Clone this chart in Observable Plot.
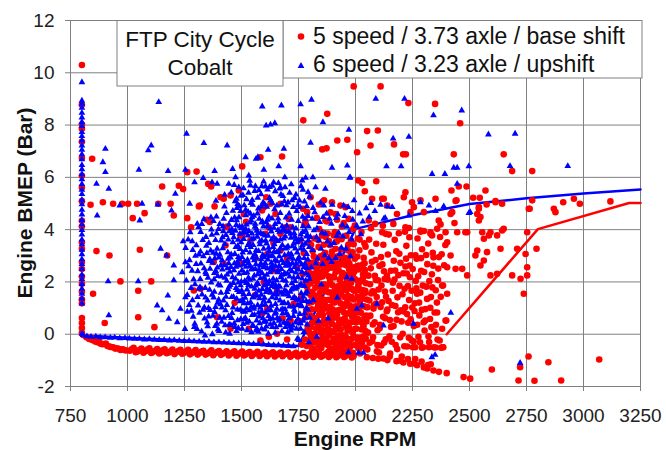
<!DOCTYPE html>
<html><head><meta charset="utf-8">
<script src="https://cdn.jsdelivr.net/npm/d3@7"></script>
<script src="https://cdn.jsdelivr.net/npm/@observablehq/plot@0.6"></script>
<style>
html,body{margin:0;padding:0;background:#fff;}
#chart{width:666px;height:450px;}
</style></head><body><div id="chart"></div>
<script>
const xTicks = [750,1000,1250,1500,1750,2000,2250,2500,2750,3000,3250];
const yTicks = [-2,0,2,4,6,8,10,12];
const seriesNames = ["5 speed / 3.73 axle / base shift","6 speed / 3.23 axle / upshift"];
const boxTitle = ["FTP City Cycle","Cobalt"];
const xTitle = "Engine RPM";
const yTitle = "Engine BMEP (Bar)";
const idleRPM = 800;

// 5 speed (red) idle column BMEP values at 800 rpm
const redIdleBMEP = [10.3,8.78,8.02,7.86,7.36,6.74,6.06,5.61,5.09,4.34,4.12,3.52,3.27,2.76,2.49,2.21,1.93,1.62,1.34,1.18,0.62,0.43,0.24,0.05];
// 6 speed (blue) idle column BMEP values at 800 rpm
const blueIdleBMEP = [9.64,8.93,8.81,8.66,8.47,8.29,8.12,7.96,7.73,7.58,7.41,7.22,7.05,6.88,6.69,6.47,6.31,6.12,5.93,5.74,5.52,5.36,5.14,4.97,4.76,4.58,4.37,4.19,3.98,3.81,3.62,3.44,3.23,3.06,2.87,2.68,2.49,2.27,2.11,1.92,1.74,1.55,1.36,1.17,0.02];

// red points: rpm, bmep pairs
const redSparse = [845,6.71,838,4.95,892,5.05,937,4.99,977,4.99,1003,4.99,1042,4.99,1023,4.44,1075,4.63,1135,4.99,1152,5.65,1189,4.99,1203,4.54,1225,5.68,1244,5.55,1262,4.44,1279,4.09,1303,6.22,1313,4.89,1354,5.75,1361,4.29,1382,4.89,1422,5.18,1433,4.09,864,3.18,921,3.01,1054,3.23,969,2.02,1104,2.02,1047,1.66,849,1.55,1047,0.65,900,0.43,1118,0.27,1174,3.01,
1262,6.2,1317,4.92,1367,5.65,1408,5.24,1452,5.31,1503,6.42,1627,4.99,1598,4.86,1671,4.99,1678,6.8,1583,6.77,1349,4.38,1488,5.5,1510,4.6,1590,4.73,1649,4.6,1707,4.41,1788,4.67,1839,4.96,1897,5.05,1934,4.92,1956,4.86,1912,4.6,1868,4.35,1781,4.33,1948,4.25,1693,4.09,1620,4.09,1503,3.78,1605,3.84,1854,3.78,1905,3.78,1997,4.16,2058,4.35,1437,4.12,1609,5.24,1803,5.24];
const redUpper = [1992,9.48,2110,9.48,2232,8.84,2349,8.81,2459,8.07,1876,8.43,1771,8.18,2051,7.77,2098,7.79,1920,7.41,1964,7.44,2066,7.22,1854,7.07,1873,7.11,2007,6.96,2012,5.88,2029,5.78,2091,5.85,2041,5.47,2073,5.18,2117,5.18,2169,7.26,2209,6.88,2221,6.88,2431,6.88,2650,6.88,2687,6.24,2775,6.24,
2421,5.5,2453,5.65,2487,5.65,2570,5.5,2351,5.18,2443,5.12,2516,5.22,2545,5.22,2614,5.09,2575,4.96,2541,4.8,2548,4.48,2541,4.35,2417,4.6,2365,4.35,2434,4.25,2329,3.9,2358,4.03,2490,3.9,2446,3.9,2585,3.78,2621,3.78,2650,4.03,2753,3.9,2760,4.8,2775,5.12,2124,5.18,2139,4.92,2219,5.43,2212,5.24,2248,5.05,2285,5.12,2256,4.86,2241,4.67,2300,4.67,2182,4.6,2219,4.09,2234,4.06,2285,3.97,2300,3.95,2117,3.9,2132,3.84,2373,4.2,2336,3.78];
const redRight = [2395,3.9,2439,5.1,2424,4.67,2482,3.9,2402,3.52,2417,3.01,2402,2.56,2439,2.5,2468,2.5,2490,2.25,2380,1.86,2402,1.55,2395,0.52,2534,3.2,2577,3.14,2526,3.01,2548,2.63,2592,2.25,2621,2.31,2563,2.82,2636,3.27,2556,3.9,2592,3.9,2643,3.97,2563,3.65,2534,4.6,2541,4.86,2614,5.05,2643,4.99,2709,3.27,2687,2.25,2724,2.12,2746,3.07,2753,2.56,2753,2.25,2738,1.55,2794,3.27,2764,4.8,2870,4.8,2877,4.67,2911,5.05,2958,5.18,2984,4.99,3118,5.08];
const redLowTrail = [2050,-0.88,2100,-0.94,2140,-0.99,2180,-1.03,2210,-1.08,2240,-1.13,2270,-1.19,2300,-1.27,2342,-1.39,2400,-1.49,2474,-1.64,2503,-1.7,2598,-1.35,2715,-1.77,2722,-1.26,2759,-0.85,2785,-1.78,2846,-1.07,2902,-1.77,3069,-0.97,2150,-0.85,2230,-0.95,2290,-1.05,2330,-1.15,2262,-0.5,2291,-0.52,2322,-0.5,2351,-0.51,2382,-0.5,2076,-0.91,2122,-0.93,2196,-1.01,2256,-1.12,2315,-1.31,2366,-1.44];
const redBand = [820,-0.12,845,-0.22,868,-0.31,890,-0.38,912,-0.45,935,-0.5,958,-0.55,980,-0.58,850,-0.17,875,-0.27,905,-0.36,832,-0.18,858,-0.28,882,-0.36,924,-0.49,946,-0.55,969,-0.6,992,-0.62,
1010,-0.63,1044,-0.66,1079,-0.65,1112,-0.68,1148,-0.69,1181,-0.7,1214,-0.69,1249,-0.71,1283,-0.72,1316,-0.72,1351,-0.74,1384,-0.73,1418,-0.75,1452,-0.75,1486,-0.76,1519,-0.77,1553,-0.76,1587,-0.78,1620,-0.78,1655,-0.79,1688,-0.78,1722,-0.8,1756,-0.8,1789,-0.81,1823,-0.8,1857,-0.82,1891,-0.81,1924,-0.82,1958,-0.82,1992,-0.83,
1027,-0.52,1061,-0.55,1096,-0.54,1130,-0.57,1163,-0.58,1197,-0.59,1232,-0.6,1266,-0.6,1299,-0.61,1333,-0.63,1368,-0.62,1401,-0.64,1435,-0.65,1469,-0.65,1503,-0.66,1536,-0.68,1570,-0.67,1604,-0.69,1638,-0.69,1671,-0.7,1705,-0.7,1739,-0.71,1772,-0.72,1806,-0.71,1840,-0.72,1874,-0.73,1908,-0.72,1941,-0.74,1975,-0.74,
1018,-0.58,1052,-0.61,1087,-0.59,1121,-0.63,1155,-0.62,1189,-0.65,1223,-0.64,1257,-0.66,1291,-0.67,1325,-0.66,1359,-0.69,1393,-0.68,1427,-0.71,1461,-0.7,1495,-0.72,1528,-0.72,1562,-0.73,1596,-0.73,1629,-0.74,1663,-0.75,1697,-0.75,1731,-0.76,1764,-0.77,1798,-0.76,1832,-0.78,1866,-0.77,1899,-0.78,1933,-0.79,1967,-0.78,
1036,-0.69,1070,-0.71,1104,-0.72,1139,-0.74,1172,-0.73,1206,-0.76,1240,-0.75,1274,-0.77,1308,-0.78,1342,-0.78,1376,-0.8,1410,-0.79,1444,-0.81,1478,-0.82,1511,-0.81,1545,-0.83,1579,-0.83,1612,-0.84,1646,-0.85,1680,-0.84,1714,-0.86,1747,-0.85,1781,-0.86,1815,-0.87,1849,-0.86,1883,-0.87,1916,-0.88,1950,-0.87,1984,-0.89];
const redMid = [1422,2.69,1496,2.69,1320,1.74,1291,1.67,1393,0.65,1452,0.21,1532,0.21,1590,0.78,1613,0.97,1656,1.67,1598,1.99,1613,3.07,1671,3.2,1539,3.59,1671,3.84,1496,3.78,1378,2.76,1642,2.44,1715,4.09,1759,3.59,1744,2.56,1729,1.16,1715,0.52,1656,0.02,1583,-0.24,1470,1.2,1560,1.5,1640,3.5,1700,2.9,1520,4.3,1680,0.6,1430,3.4,1560,2.9,1700,-0.2,1620,-0.1];
const redDense = [1755,0.5,1762,1.4,1768,2.3,1773,3.1,1779,-0.2,1784,0.9,1788,1.8,1792,2.7,1797,3.5,1776,4.2,1790,0.2,1765,-0.4,1795,1.2,1782,2.0,1770,4.8,
1802,-0.35,1805,0.28,1808,0.95,1811,1.62,1814,2.31,1817,2.98,1820,3.66,1823,-0.12,1826,0.61,1829,1.29,1832,1.97,1835,2.65,1838,3.34,1841,4.02,1844,-0.48,1847,0.07,1849,0.83,1806,1.47,1818,2.05,1833,0.41,1843,1.57,1812,3.18,1827,2.83,1839,2.41,1846,2.98,1821,0.03,1850,1.15,1830,4.45,
1852,-0.41,1854,0.16,1857,0.74,1859,1.33,1862,1.91,1864,2.52,1867,3.11,1869,3.72,1872,-0.19,1874,0.44,1877,1.03,1879,1.61,1882,2.22,1884,2.81,1887,3.41,1889,-0.58,1891,0.12,1894,0.69,1896,1.28,1899,1.87,1855,2.21,1866,0.38,1871,2.87,1878,3.85,1886,1.32,1893,2.54,1897,3.16,1861,3.42,1883,-0.05,1875,4.31,1890,4.66,1862,5.12,
1901,-0.55,1903,0.07,1906,0.63,1908,1.21,1911,1.79,1913,2.38,1916,2.97,1918,3.55,1921,-0.28,1923,0.35,1926,0.92,1928,1.49,1931,2.08,1933,2.66,1936,3.24,1938,-0.62,1941,-0.04,1943,0.54,1946,1.13,1948,1.72,1905,2.68,1915,0.31,1925,1.84,1935,0.18,1944,2.34,1909,3.91,1929,3.71,1947,2.93,1919,4.38,1940,4.12,1912,-0.21,1932,-0.45,
1951,-0.66,1953,-0.05,1956,0.52,1958,1.09,1961,1.68,1963,2.26,1966,2.85,1968,3.42,1971,-0.36,1973,0.24,1976,0.81,1978,1.39,1981,1.97,1983,2.56,1986,3.14,1988,-0.71,1991,-0.11,1993,0.48,1996,1.06,1998,1.64,1955,2.91,1965,0.13,1975,2.03,1985,0.67,1994,2.38,1960,3.77,1980,3.58,1997,2.89,1970,4.41,1990,4.02,
2002,-0.42,2004,0.21,2007,0.83,2009,1.42,2012,2.04,2014,2.63,2017,3.21,2020,-0.74,2023,-0.13,2025,0.47,2028,1.08,2031,1.69,2033,2.29,2036,2.92,2039,3.48,2042,-0.51,2044,0.12,2047,0.71,2049,1.33,2010,3.66,2026,3.91,2041,2.45,2016,1.71,2035,0.33,2046,1.95,
2052,-0.58,2055,0.06,2058,0.68,2061,1.29,2064,1.91,2067,2.52,2070,3.13,2073,-0.27,2076,0.37,2079,0.98,2082,1.62,2085,2.23,2088,2.84,2091,3.46,2094,-0.65,2097,0.15,2060,3.62,2075,1.64,2090,1.17,2099,2.06,2068,4.05,2086,4.22,
2103,-0.7,2106,0.23,2110,1.04,2114,1.86,2118,2.67,2122,3.42,2126,-0.32,2130,0.61,2134,1.43,2138,2.24,2142,3.05,2146,3.81,2149,-0.08,2112,2.95,2128,2.11,2140,0.94,2120,4.15,
2152,-0.74,2156,0.28,2160,1.12,2164,1.97,2168,2.81,2172,3.61,2176,-0.41,2180,0.55,2184,1.41,2188,2.26,2192,3.08,2196,-0.12,2199,0.91,2166,4.22,2190,3.86,2174,2.44,
2203,-0.85,2207,0.02,2211,0.87,2215,1.74,2219,2.59,2223,3.38,2227,-0.47,2231,0.44,2235,1.31,2239,2.18,2243,3.02,2247,-0.24,2249,1.02,2217,3.92,2236,3.71,2225,2.32,
2252,-0.5,2256,0.31,2260,1.18,2264,2.04,2268,2.89,2272,3.66,2276,-0.1,2280,0.72,2284,1.59,2288,2.43,2292,3.25,2296,-0.5,2299,0.46,2262,-0.95,2285,3.92,2270,1.55,
2303,0.14,2307,0.96,2311,1.82,2315,2.68,2319,3.47,2323,-0.3,2327,0.58,2331,1.42,2335,2.29,2339,3.11,2343,-0.5,2347,0.83,2318,-1.18,2329,3.84,2341,2.62,
2353,0.36,2357,1.21,2362,2.07,2366,2.95,2371,3.72,2375,-0.52,2380,0.21,2384,1.86,2389,2.64,2394,3.41,2398,0.52,2360,-0.2,2385,-0.5];
const redDense2 = [1781,0.64,1786,-0.45,1791,1.63,1794,2.41,1798,0.05,1801,0.71,1803,1.94,1807,2.73,1809,-0.61,1813,0.46,1816,1.27,1819,2.61,1822,-0.31,1824,1.78,1828,0.22,1831,2.44,1834,-0.65,1836,1.09,1840,0.73,1842,2.17,1845,1.36,1848,-0.22,1851,2.63,1853,0.92,1856,-0.08,1858,1.62,1860,3.04,1863,0.55,1865,1.15,1868,2.31,1870,-0.36,1873,1.85,1876,2.65,1879,0.21,1881,-0.67,1885,0.81,1888,2.01,1892,1.59,1895,-0.31,1898,0.38,1900,2.85,1902,1.47,1904,-0.18,1907,2.17,1910,0.88,1914,1.36,1917,-0.44,1920,2.71,1922,1.62,1924,-0.04,1927,0.56,1930,3.01,1934,1.18,1937,1.92,1939,0.41,1942,2.73,1945,-0.26,1949,0.84,1952,1.42,1954,2.66,1957,-0.32,1959,0.29,1962,2.06,1964,0.78,1967,1.47,1969,-0.52,1972,2.48,1974,1.11,1977,0.45,1979,3.02,1982,-0.18,1984,1.74,1987,0.82,1989,2.19,1992,1.33,1995,-0.41,1999,0.21,2001,2.58,2003,1.06,2006,-0.13,2008,2.97,2011,0.58,2013,1.84,2015,-0.55,2018,1.21,2021,2.52,2024,0.82,2027,1.46,2029,-0.32,2032,2.12,2034,0.26,2037,1.07,2040,2.71,2043,1.66,2045,-0.17,2048,0.49,
2053,1.03,2057,2.24,2062,-0.33,2065,0.71,2069,1.56,2072,2.77,2077,-0.12,2081,1.11,2084,0.46,2089,2.07,2093,1.42,2096,-0.41,2101,1.71,2105,2.61,2108,0.36,2113,-0.43,2117,1.22,2121,0.67,2125,2.41,2129,1.63,2133,-0.19,2137,0.88,2141,2.09,2145,1.27,2151,0.54,2155,2.43,2159,-0.29,2163,1.66,2167,0.31,2171,2.09,2175,1.08,2179,3.17,2183,-0.57,2187,0.84,2193,1.85,2197,2.73,2202,0.49,2206,1.53,2210,2.33,2214,-0.46,2218,1.03,2222,2.89,2226,0.77,2230,1.84,2234,-0.14,2238,2.63,2242,0.57,2246,1.66,2251,2.49,2255,-0.28,2259,0.89,2263,3.02,2267,1.76,2271,0.36,2275,2.22,2279,1.21,2283,-0.31,2287,2.91,2291,0.93,2295,1.86,2301,2.38,2306,0.52,2310,3.03,2314,1.35,2320,-0.08,2324,2.03,2328,1.01,2333,0.27,2337,1.79,2342,2.94,2346,0.1,2352,1.68,2358,0.83,2363,2.51,2369,-0.24,2374,1.43,2378,3.06];
const redDense3 = [1792,0.33,1796,1.56,1799,2.64,1804,-0.14,1807,1.22,1810,2.08,1813,-0.54,1817,0.62,1820,1.48,1825,2.27,1828,-0.21,1832,0.97,1835,1.83,1838,-0.43,1841,0.28,1844,2.38,1847,1.04,1850,-0.53,
1853,1.71,1856,0.46,1859,2.79,1862,-0.26,1865,0.98,1868,1.72,1871,0.12,1874,2.48,1877,1.31,1880,-0.42,1883,0.57,1886,2.16,1889,1.05,1892,2.98,1895,0.42,1898,1.58,
1901,0.94,1904,2.21,1907,-0.31,1910,1.63,1913,0.19,1916,2.59,1919,0.76,1922,-0.57,1925,1.31,1928,2.42,1931,0.47,1934,-0.16,1937,1.56,1940,2.21,1943,0.98,1946,1.78,1949,-0.43,
1952,0.61,1955,1.92,1958,-0.12,1961,2.63,1964,1.24,1967,0.31,1970,1.89,1973,2.71,1976,-0.49,1979,0.92,1982,1.42,1985,2.34,1988,0.06,1991,1.68,1994,0.71,1997,2.11,
2003,0.46,2006,1.72,2009,-0.21,2012,2.48,2015,0.92,2018,1.67,2021,-0.38,2024,2.02,2027,0.18,2030,1.36,2033,2.67,2036,-0.08,2039,0.64,2042,1.58,2045,2.26,2048,1.03,
1805,3.42,1836,3.61,1858,3.88,1884,3.56,1912,3.27,1939,3.63,1966,3.21,1992,3.44,2018,3.62,2044,3.35];

// blue points: rpm, bmep pairs
const blueSparse = [1137,8.88,1104,7.22,1091,7.03,1050,6.29,1133,4.96,1064,4.99,1054,4.35,966,4.92,903,7.09,892,6.58,903,6.2,864,5.75,918,5.56,867,4.54,1335,7.31,1259,7.67,1382,6.24,1294,5.81,1332,5.97,1371,5.81,1393,5.75,1254,6.29,1178,6.24,1210,5.37,1273,4.99,1193,4.73,1306,4.22,
1591,8.71,1675,8.75,1759,8.79,1807,8.97,1857,8.11,1971,7.82,1608,7.98,1627,8.02,1646,8.07,1803,7.32,1437,7.22,1617,7.05,1686,7.09,1518,6.77,1564,6.71,1572,6.77,1759,6.42,1897,6.37,1964,6.45,1461,6.32,1598,6.29,1663,6.42,1690,6.0,1781,5.98,1813,6.0,1974,5.98,1474,6.0,1532,6.07,1444,5.75,1488,5.62,1539,5.69,1605,5.65,1635,5.68,1671,5.62,1576,5.5,1825,5.62,1868,5.56,1766,5.88,
2089,9.0,2215,9.0,2342,8.37,2466,8.56,2583,7.64,2700,7.67,2931,6.43,2678,6.43,2165,7.48,2234,7.55,2136,6.42,2200,6.42,2336,6.13,2392,6.13,2431,6.37,2446,6.37,2497,6.42,1977,6.0,2446,5.75,2503,4.67,2139,4.89,2161,4.86,2285,5.05,2322,4.92,2351,4.71,2387,4.89,2497,4.63,2234,4.54,2124,4.41,
1145,3.27,1171,3.01,1203,2.63,1130,1.1,1152,0.91,1177,1.48,1203,2.06,1244,3.55,1284,3.55,1254,2.75,1240,2.37,1254,1.41,1232,0.97,1181,0.59,1218,0.46,915,2.02,1047,2.02,918,0.72,1314,1.74,1342,2.37,1320,3.16,1255,3.3,1268,2.6,1262,1.5,1280,0.9,1290,2.1,1275,3.9,1295,0.4,1285,1.3,1252,0.2,1298,3.0,
2418,0.82,2335,-0.88,2349,-0.79,2722,-1.1,2123,0.33,2254,0.4,2028,1.1,2006,0.97,2094,1.16,1969,-0.69,2013,-0.71,2035,-0.71,1984,2.12,1962,2.18,1880,0.6,1920,1.4,1850,1.9,1830,-0.1,
2005,4.15,2018,4.62,2032,4.31,2047,4.82,2060,4.48,2085,4.71,2110,4.95,2130,4.45,2024,3.82,2068,5.02];
const blueBand = [805,-0.03,822,-0.08,840,-0.1,861,-0.09,880,-0.12,902,-0.12,925,-0.14,944,-0.13,966,-0.16,989,-0.15,1008,-0.17,1031,-0.18,1052,-0.18,1074,-0.2,1096,-0.19,1118,-0.21,1139,-0.22,1161,-0.22,1184,-0.24,1205,-0.23,1227,-0.25,1249,-0.26,1270,-0.26,1292,-0.27,1314,-0.28,1336,-0.29,1357,-0.29,1379,-0.31,1401,-0.31,1423,-0.32,1445,-0.33,1466,-0.34,1488,-0.35,1510,-0.35,1532,-0.37,1553,-0.38,1575,-0.38,1597,-0.4,1619,-0.41,1641,-0.42,1662,-0.42,1684,-0.44,1706,-0.45,1728,-0.46];
const blueDense = [1305,0.2,1310,1.1,1318,1.8,1322,2.7,1330,3.6,1338,0.6,1342,1.4,1345,2.3,1312,4.1,1348,3.1,1325,0.1,1335,4.4,1340,-0.05,
1352,0.3,1355,1.0,1360,1.7,1362,2.5,1365,3.2,1368,4.0,1372,0.0,1375,0.7,1378,1.4,1380,2.1,1383,2.9,1386,3.6,1390,4.5,1392,0.4,1395,1.2,1398,1.9,1358,2.8,1388,5.1,1370,3.8,
1402,0.12,1405,0.63,1408,1.14,1410,1.58,1412,2.21,1415,2.83,1418,3.29,1420,3.94,1422,4.41,1425,4.88,1428,0.34,1430,0.91,1432,1.43,1435,2.04,1438,2.52,1440,3.13,1442,3.62,1445,4.19,1448,0.02,1446,1.81,1426,5.33,1416,2.47,1436,1.12,1444,2.71,1411,3.58,
1453,0.35,1457,1.42,1461,2.18,1455,3.05,1466,3.71,1470,4.46,1478,0.12,1482,0.94,1476,1.77,1488,2.63,1484,3.38,1491,4.12,1497,0.58,1494,1.26,1499,2.01,1486,2.95,1493,3.84,1472,5.08,1480,4.83,1463,1.02,1469,2.71,1490,1.61,1458,4.02,1496,4.71,1475,3.33,
1503,0.21,1506,0.87,1509,1.53,1512,2.34,1505,3.12,1516,3.88,1519,4.55,1523,0.44,1527,1.18,1521,1.96,1531,2.72,1534,3.49,1538,4.27,1541,5.02,1544,0.07,1547,0.73,1549,1.41,1536,2.08,1526,2.85,1545,3.63,1512,4.93,1529,4.68,1540,1.22,1517,0.62,1548,2.51,1532,3.95,1508,2.66,1543,4.35,
1552,0.31,1555,1.05,1558,1.74,1561,2.49,1564,3.21,1567,3.96,1570,4.62,1574,0.09,1577,0.68,1579,1.37,1583,2.14,1586,2.87,1589,3.58,1592,4.31,1595,5.04,1598,0.47,1556,2.83,1566,0.52,1573,1.92,1581,3.44,1590,1.12,1597,2.56,1560,4.22,1585,4.88,1553,3.66,1578,2.41,1594,3.82,1568,1.48,1588,0.21,1599,1.86,
1602,0.18,1605,0.83,1608,1.61,1611,2.27,1614,3.04,1617,3.76,1620,4.49,1623,5.21,1627,0.38,1630,1.09,1633,1.84,1636,2.61,1639,3.33,1642,4.07,1645,4.78,1648,0.05,1604,2.72,1613,4.13,1621,1.26,1629,2.98,1637,0.61,1644,1.53,1618,0.02,1641,3.71,1625,2.37,1647,2.84,1610,3.47,1634,4.42,1649,1.15,1616,1.95,
1652,0.26,1655,0.97,1658,1.68,1661,2.44,1664,3.17,1667,3.92,1670,4.63,1673,5.34,1677,0.11,1680,0.79,1683,1.52,1686,2.29,1689,3.02,1692,3.74,1695,4.46,1698,0.43,1654,2.06,1662,4.28,1669,1.29,1676,2.83,1684,4.02,1691,0.95,1697,1.87,1659,3.56,1679,3.41,1688,5.08,1666,0.58,1694,2.62,1672,2.18,1699,3.31,
1702,0.07,1705,0.72,1708,1.45,1711,2.21,1714,2.94,1717,3.69,1720,4.38,1724,0.33,1727,1.06,1730,1.81,1733,2.57,1736,3.28,1739,4.04,1742,4.71,1745,-0.18,1748,0.59,1704,3.36,1712,0.31,1719,1.71,1726,2.88,1734,0.86,1741,1.33,1747,2.19,1709,4.61,1731,3.87,1744,3.12,1722,5.12,1738,2.36,
1752,-0.22,1755,0.42,1758,1.15,1761,1.92,1764,2.66,1767,3.41,1770,4.13,1774,0.08,1777,0.81,1780,1.56,1783,2.32,1786,3.07,1789,3.79,1792,4.52,1796,-0.31,1799,0.63,1757,4.86,1769,1.27,1775,2.91,1785,1.01,1794,2.24,1763,3.64,1779,4.41,1797,3.33,1759,0.21,1788,0.37,
1806,2.55,1812,3.22,1818,3.97,1821,4.66,1834,2.89,1840,3.58,1843,4.29,1846,5.03,1810,4.41,1829,3.71,1815,1.3,1838,0.5,
1856,2.68,1865,3.02,1869,3.84,1873,4.61,1890,3.41,1894,4.22,1898,4.95,1858,4.48,1883,2.9,
1913,2.91,1918,3.76,1923,4.58,1938,3.31,1943,4.17,1948,4.92,1926,3.88,
1958,3.27,1963,4.11,1968,4.86,1978,2.98,1983,3.63,1988,4.38,1994,5.12];
const blueDense2 = [1382,0.85,1387,2.42,1393,3.27,1397,0.18,1401,2.93,1404,4.21,1407,1.86,1413,0.47,1417,3.71,1421,1.29,1424,2.64,1427,3.45,1431,0.06,1434,4.63,1437,2.28,1441,1.72,1443,0.69,1447,3.94,1449,2.39,
1451,1.88,1454,2.57,1456,4.37,1459,0.81,1462,3.52,1465,1.43,1467,2.44,1471,0.27,1473,3.96,1474,2.12,1477,4.18,1479,1.35,1481,2.76,1483,0.53,1485,3.61,1487,1.98,1489,4.47,1492,2.87,1495,0.93,1498,3.52,
1501,1.67,1502,2.95,1504,4.11,1507,0.39,1510,3.64,1511,1.18,1514,2.03,1515,0.86,1518,3.22,1520,2.58,1522,4.19,1524,1.71,1525,0.15,1528,3.41,1530,2.16,1533,1.54,1535,0.91,1537,3.12,1539,4.61,1542,2.47,1544,1.82,1546,3.85,1549,0.35,
1551,2.12,1553,1.41,1554,4.53,1557,0.74,1559,3.06,1562,1.86,1563,2.67,1565,4.04,1567,0.22,1569,3.73,1571,1.11,1572,2.29,1575,3.18,1576,1.66,1578,4.41,1580,0.42,1582,2.63,1584,3.87,1587,1.51,1589,0.88,1591,2.33,1593,3.03,1596,4.12,1598,1.28,1600,2.94,
1601,1.39,1603,3.77,1606,2.06,1607,0.47,1609,4.28,1612,1.74,1614,2.51,1615,0.91,1619,3.31,1622,2.03,1624,0.57,1626,4.04,1628,1.58,1631,2.73,1632,3.62,1635,0.27,1638,1.94,1640,2.46,1643,3.16,1646,0.78,1647,4.21,1650,1.87,
1651,3.63,1653,1.37,1656,2.79,1657,0.62,1660,3.98,1663,1.84,1665,2.61,1668,0.34,1671,3.29,1674,1.58,1675,2.49,1678,4.12,1681,0.96,1682,2.07,1685,3.66,1687,1.21,1690,2.33,1693,0.27,1696,3.93,1698,1.62,1700,2.78,
1701,1.53,1703,2.64,1706,0.38,1707,3.92,1710,1.06,1713,2.47,1716,0.14,1718,3.07,1721,1.95,1723,2.72,1725,4.09,1728,0.69,1729,3.47,1732,1.42,1735,2.03,1737,0.45,1740,3.64,1743,1.79,1746,2.86,1749,4.33,
1751,1.32,1753,2.94,1756,0.77,1760,3.81,1762,1.57,1765,2.38,1768,4.49,1771,0.51,1773,3.23,1776,1.84,1778,2.69,1781,3.96,1784,1.27,1787,2.53,1791,0.94,1793,3.58,1798,2.11,
1455,5.42,1468,5.71,1483,4.98,1497,5.29,1509,5.58,1522,5.16,1536,5.87,1549,4.95,1558,5.48,1571,5.22,1589,5.66,1602,4.97,1614,5.53,1628,5.12,1641,5.81,1655,4.92,1668,5.57,1682,5.28,1697,4.93,1711,5.41,1727,4.86,1739,5.34,1754,5.11,1769,5.52,1786,4.89,1799,5.26,
1258,2.05,1266,3.62,1271,1.12,1283,2.43,1288,0.67,1296,1.91,1302,3.4,1308,2.41,1316,0.82,1321,3.91,1327,1.52,1333,2.98,1337,1.03,1344,3.72,1349,0.45,1353,2.16,1357,3.49,1363,0.92,1367,1.98,1373,2.73,1377,4.33,1381,1.62,1385,0.31,1389,3.08,1394,2.55,1399,4.02,
1802,3.72,1814,4.83,1826,2.71,1831,4.05,1849,3.27,1853,3.88,1861,4.92,1877,3.55,1886,4.41,1895,2.76,1905,3.49,1916,4.44,1931,3.07,1945,3.74,1953,4.52,1972,3.91,1986,4.71];
const blueDense3 = [1452,2.93,1456,0.62,1460,3.87,1464,1.96,1468,0.41,1471,3.07,1476,2.58,1479,4.36,1482,1.69,1486,0.23,1489,2.31,1493,3.26,1496,1.87,1499,4.06,
1502,2.44,1505,1.31,1508,3.91,1511,0.57,1513,2.79,1516,1.39,1519,4.02,1522,0.98,1525,2.36,1528,3.77,1531,1.88,1534,0.48,1537,2.61,1540,3.33,1543,1.05,1546,4.47,1549,2.93,
1551,3.41,1554,0.97,1556,2.24,1559,4.11,1561,1.52,1564,0.14,1566,2.92,1569,1.95,1572,3.86,1575,0.83,1577,2.47,1580,3.54,1583,1.02,1585,2.71,1588,4.27,1591,1.72,1594,0.61,1597,3.27,1599,2.18,
1601,2.62,1604,1.13,1606,3.58,1609,0.29,1611,1.92,1614,4.38,1616,2.86,1619,0.69,1621,3.18,1624,1.67,1626,2.54,1629,0.91,1631,3.93,1634,1.41,1636,3.01,1639,2.12,1642,0.42,1644,3.44,1647,1.79,1649,2.61,
1651,0.83,1654,3.13,1656,1.52,1659,2.37,1661,4.42,1664,0.51,1666,2.98,1669,1.81,1671,3.62,1674,0.93,1676,2.27,1679,1.18,1681,3.97,1684,2.72,1686,0.44,1689,1.69,1691,3.28,1694,2.04,1696,0.81,1699,4.15,
1701,2.32,1704,1.18,1706,3.07,1709,0.61,1711,2.66,1714,1.62,1716,3.84,1719,0.24,1721,2.41,1724,3.36,1726,1.37,1729,2.16,1731,0.93,1734,3.73,1736,1.74,1739,2.69,1741,0.21,1744,3.52,1746,1.11,1749,2.47,
1751,3.59,1754,1.85,1756,2.77,1759,0.42,1761,3.28,1764,1.07,1766,2.13,1769,3.91,1771,1.44,1774,2.57,1776,0.63,1779,3.46,1782,2.04,1785,3.74,1788,1.62,1791,2.86,1794,4.12,1797,1.23,
1462,4.72,1478,5.18,1491,4.89,1506,5.32,1518,4.76,1531,5.41,1547,5.13,1561,5.66,1574,4.81,1586,5.35,1597,5.84,1611,4.87,1623,5.63,1635,5.02,1648,5.47,1662,5.78,1676,4.97,1691,5.62,1704,5.04,1718,5.73,1733,5.21,1747,4.93,1761,5.66,1776,5.07,1792,5.43,
1262,0.86,1272,2.83,1279,1.77,1286,3.22,1293,0.27,1301,2.68,1307,1.42,1314,3.05,1319,2.11,1326,4.21,1331,0.93,1336,2.52,1341,1.77,1346,3.38,1351,1.29,1356,0.68,1361,2.87,1366,4.47,1371,1.51,1376,3.11,1381,2.34,1386,1.04,1391,3.86,1396,2.22,1400,1.32,
1405,3.04,1409,2.63,1414,1.02,1419,4.12,1423,0.63,1427,2.16,1432,3.79,1436,1.61,1441,2.88,1446,0.37];

// reference lines
const redLineLow = [[800,-0.1],[1000,-0.58],[1250,-0.66],[1500,-0.71],[1750,-0.76],[2000,-0.78]];
const redLineHigh = [[2400,0],[2800,4.02],[3200,5.02],[3250,5.02]];
const blueLine = [[800,-0.05],[1750,-0.45],[2000,4.03],[2250,4.55],[2500,4.98],[2750,5.2],[3000,5.38],[3250,5.54]];

function pairs(flat){const out=[];for(let i=0;i<flat.length;i+=2)out.push({rpm:flat[i],bmep:flat[i+1]});return out;}
const red = redIdleBMEP.map(b=>({rpm:idleRPM,bmep:b}))
  .concat(pairs(redBand),pairs(redSparse),pairs(redUpper),pairs(redRight),pairs(redLowTrail),pairs(redMid),pairs(redDense),pairs(redDense2),pairs(redDense3));
const blue = blueIdleBMEP.map(b=>({rpm:idleRPM,bmep:b}))
  .concat(pairs(blueBand),pairs(blueSparse),pairs(blueDense),pairs(blueDense2),pairs(blueDense3));

const RED="#ff0000", BLUE="#0000ff", GRID="#808080", INK="#222";
const font="'Liberation Sans', Arial, sans-serif";
const TRI_R = 2.5, DOT_R = 3.3;

const plot = Plot.plot({
  width:666, height:450,
  marginLeft:70, marginRight:26, marginTop:20, marginBottom:64,
  style:{fontFamily:font, fontSize:"19px", background:"#fff", color:INK, overflow:"visible"},
  x:{domain:[750,3250], label:null},
  y:{domain:[-2,12], label:null},
  marks:[
    Plot.gridX(xTicks,{stroke:GRID, strokeOpacity:1, strokeWidth:1}),
    Plot.gridY(yTicks,{stroke:GRID, strokeOpacity:1, strokeWidth:1}),
    Plot.axisX(xTicks,{tickSize:5, tickPadding:17, tickFormat:d=>String(d), stroke:GRID, fill:INK, label:null}),
    Plot.axisY(yTicks,{tickSize:5, tickPadding:11, tickFormat:d=>String(d), stroke:GRID, fill:INK, label:null}),
    Plot.frame({stroke:GRID, strokeWidth:1}),
    Plot.line(blueLine,{x:d=>d[0], y:d=>d[1], stroke:BLUE, strokeWidth:2.5}),
    Plot.line(redLineLow,{x:d=>d[0], y:d=>d[1], stroke:RED, strokeWidth:2.5}),
    Plot.line(redLineHigh,{x:d=>d[0], y:d=>d[1], stroke:RED, strokeWidth:2.5}),
    Plot.dot(red,{x:"rpm", y:"bmep", r:DOT_R, fill:RED, symbol:"circle"}),
    Plot.dot(blue,{x:"rpm", y:"bmep", r:TRI_R, fill:BLUE, symbol:"triangle"})
  ]
});
document.getElementById("chart").appendChild(plot);

// axis titles and legend boxes
const svg = d3.select(plot);
svg.append("text").attr("x",355).attr("y",446).attr("text-anchor","middle")
  .attr("font-family",font).attr("font-size",21).attr("font-weight","bold").attr("fill","#111").text(xTitle);
svg.append("text").attr("transform","translate(31.5,203) rotate(-90)").attr("text-anchor","middle")
  .attr("font-family",font).attr("font-size",21).attr("font-weight","bold").attr("fill","#111").text(yTitle);

const g = svg.append("g");
g.append("rect").attr("x",283).attr("y",20.5).attr("width",359).attr("height",57.5)
  .attr("fill","#fff").attr("stroke",GRID).attr("stroke-width",1);
g.append("rect").attr("x",117).attr("y",20.5).attr("width",166).attr("height",65.5)
  .attr("fill","#fff").attr("stroke",GRID).attr("stroke-width",1);
boxTitle.forEach((t,i)=>{
  g.append("text").attr("x",200).attr("y",i===0?46.5:75).attr("text-anchor","middle")
   .attr("font-family",font).attr("font-size",22.5).attr("fill","#111").text(t);
});
const sym = [d3.symbol(d3.symbolCircle, Math.PI*DOT_R*DOT_R)(), d3.symbol(d3.symbolTriangle, Math.PI*TRI_R*TRI_R)()];
const cols = [RED, BLUE];
seriesNames.forEach((t,i)=>{
  const yy = i===0 ? 36.5 : 66;
  g.append("path").attr("d",sym[i]).attr("transform",`translate(301,${yy})`).attr("fill",cols[i]);
  g.append("text").attr("x",313).attr("y",i===0?43.5:71.5).attr("text-anchor","start")
   .attr("font-family",font).attr("font-size",23).attr("fill","#111").text(t);
});
</script></body></html>
